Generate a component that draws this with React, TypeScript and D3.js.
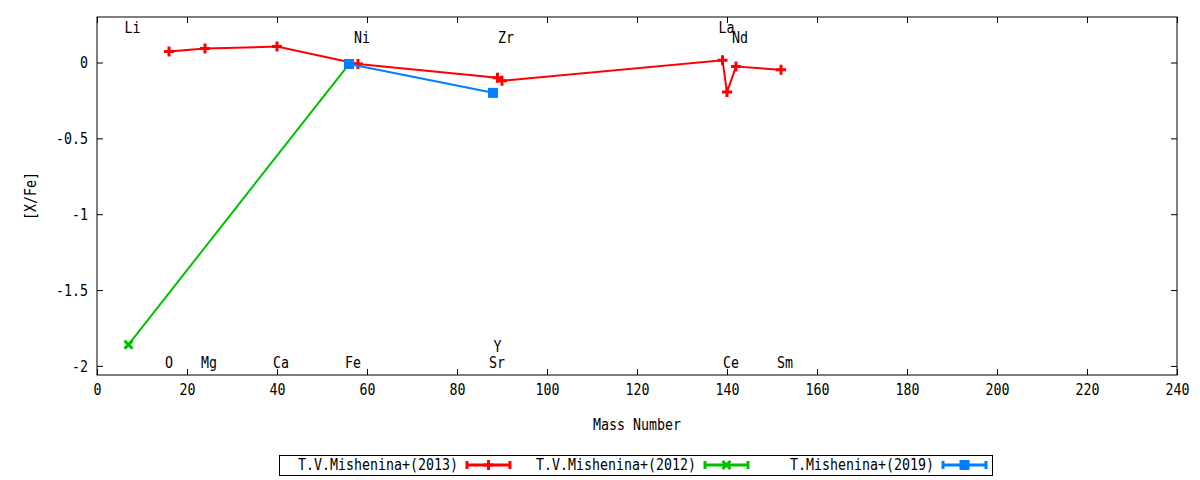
import { useEffect, useRef } from 'react';
import * as d3 from 'd3';

// [mass number, [X/Fe]]
const mishenina2013: [number, number][] = [
  [16, 0.072], [24, 0.092], [40, 0.105], [58, -0.01], [89, -0.1],
  [90, -0.12], [139, 0.015], [140, -0.195], [142, -0.026], [152, -0.048],
];
const mishenina2012: [number, number][] = [[7, -1.86], [56, -0.01]];
const mishenina2019: [number, number][] = [[56, -0.01], [88, -0.2]];

// element labels: name, mass, y position
const elemNames = ['Li', 'O', 'Mg', 'Ca', 'Fe', 'Ni', 'Sr', 'Y', 'Zr', 'La', 'Ce', 'Nd', 'Sm'];
const elemMass = [7, 16, 24, 40, 56, 58, 88, 89, 90, 139, 140, 142, 152];
const elemY = [0.23, -1.98, -1.98, -1.98, -1.98, 0.165, -1.98, -1.875, 0.165, 0.23, -1.98, 0.165, -1.98];

const xTicks = [0, 20, 40, 60, 80, 100, 120, 140, 160, 180, 200, 220, 240];
const yTicks = [0, -0.5, -1, -1.5, -2];

const seriesNames = ['T.V.Mishenina+(2013)', 'T.V.Mishenina+(2012)', 'T.Mishenina+(2019)'];
const seriesColors = ['#ff0000', '#00c000', '#0080ff'];
const seriesMarks = ['plus', 'cross', 'square'];

const W = 1200;
const H = 480;
const FONT = '"DejaVu Sans Mono", monospace';
const CH = 8; // char advance

const App = () => {
  const svgRef = useRef<SVGSVGElement>(null);

  useEffect(() => {
    if (!svgRef.current) return;
    const svg = d3.select(svgRef.current);
    svg.selectAll('*').remove();

    const left = 97, right = 1177, top = 17, bottom = 375;
    const x = d3.scaleLinear().domain([0, 240]).range([left, right]);
    const y = d3.scaleLinear().domain([-2.06, 0.3]).range([bottom, top]);

    svg.append('rect').attr('width', W).attr('height', H).attr('fill', '#fff');

    const txt = (s: string) => s.length * CH;

    // x axis (bottom) with inward ticks, mirrored on top
    const xAx = svg.append('g')
      .attr('transform', `translate(0,${bottom})`)
      .call(d3.axisBottom(x).tickValues(xTicks).tickSize(-6).tickPadding(14).tickFormat(d => String(d)));
    svg.append('g')
      .attr('transform', `translate(0,${top})`)
      .call(d3.axisTop(x).tickValues(xTicks).tickSize(-6).tickFormat(() => ''));
    const yAx = svg.append('g')
      .attr('transform', `translate(${left},0)`)
      .call(d3.axisLeft(y).tickValues(yTicks).tickSize(-6).tickPadding(9).tickFormat(d => String(d)));
    svg.append('g')
      .attr('transform', `translate(${right},0)`)
      .call(d3.axisRight(y).tickValues(yTicks).tickSize(-6).tickFormat(() => ''));

    svg.selectAll('.domain').remove();
    svg.selectAll('.tick line').attr('stroke', '#000').attr('stroke-width', 1);
    [xAx, yAx].forEach(ax => {
      ax.selectAll<SVGTextElement, number>('text')
        .attr('font-family', FONT)
        .attr('font-size', 15)
        .attr('fill', '#000')
        .attr('textLength', function () { return txt(this.textContent || ''); })
        .attr('lengthAdjust', 'spacingAndGlyphs');
    });
    xAx.selectAll('text').attr('dy', '0.4em');
    yAx.selectAll('text').attr('dy', '0.36em');

    svg.append('rect')
      .attr('x', left).attr('y', top)
      .attr('width', right - left).attr('height', bottom - top)
      .attr('fill', 'none').attr('stroke', '#000').attr('stroke-width', 1);

    const label = (s: string, lx: number, ly: number, anchor: string, rot = 0) => {
      svg.append('text')
        .attr('transform', `translate(${lx},${ly}) rotate(${rot})`)
        .attr('text-anchor', anchor)
        .attr('dy', '0.36em')
        .attr('font-family', FONT)
        .attr('font-size', 15)
        .attr('fill', '#000')
        .attr('textLength', txt(s))
        .attr('lengthAdjust', 'spacingAndGlyphs')
        .text(s);
    };

    label('Mass Number', (left + right) / 2, 425, 'middle');
    label('[X/Fe]', 31, 196, 'middle', -90);

    // element labels
    elemNames.forEach((n, i) => label(n, x(elemMass[i]) - 4, y(elemY[i]), 'start'));

    const drawMark = (g: d3.Selection<SVGGElement, unknown, null, undefined>, kind: string, color: string, px: number, py: number) => {
      if (kind === 'square') {
        g.append('rect').attr('x', px - 5).attr('y', py - 5).attr('width', 10).attr('height', 10).attr('fill', color);
      } else if (kind === 'plus') {
        g.append('path').attr('d', `M${px - 5},${py}H${px + 5}M${px},${py - 5}V${py + 5}`)
          .attr('stroke', color).attr('stroke-width', 3).attr('fill', 'none');
      } else {
        g.append('path').attr('d', `M${px - 4},${py - 4}L${px + 4},${py + 4}M${px - 4},${py + 4}L${px + 4},${py - 4}`)
          .attr('stroke', color).attr('stroke-width', 3).attr('fill', 'none');
      }
    };

    const line = d3.line<[number, number]>().x(d => x(d[0])).y(d => y(d[1]));
    const allSeries = [mishenina2013, mishenina2012, mishenina2019];
    allSeries.forEach((data, i) => {
      const g = svg.append('g');
      g.append('path').attr('d', line(data)).attr('fill', 'none')
        .attr('stroke', seriesColors[i]).attr('stroke-width', 2);
      data.forEach(d => drawMark(g, seriesMarks[i], seriesColors[i], x(d[0]), y(d[1])));
    });

    // legend
    svg.append('rect').attr('x', 279.5).attr('y', 455.5).attr('width', 713).attr('height', 20)
      .attr('fill', 'none').attr('stroke', '#000').attr('stroke-width', 1);
    seriesNames.forEach((n, i) => {
      const te = 458 + 238 * i;
      const ly = 465;
      label(n, te, ly, 'end');
      const g = svg.append('g');
      const x0 = te + 9, x1 = te + 52;
      g.append('path')
        .attr('d', `M${x0},${ly}H${x1}M${x0},${ly - 4}V${ly + 4}M${x1},${ly - 4}V${ly + 4}`)
        .attr('stroke', seriesColors[i]).attr('stroke-width', 3).attr('fill', 'none');
      drawMark(g, seriesMarks[i], seriesColors[i], (x0 + x1) / 2, ly);
    });
  }, []);

  return (
    <svg ref={svgRef} width={W} height={H} style={{ position: 'absolute', left: 0, top: 0 }} />
  );
};

export default App;
